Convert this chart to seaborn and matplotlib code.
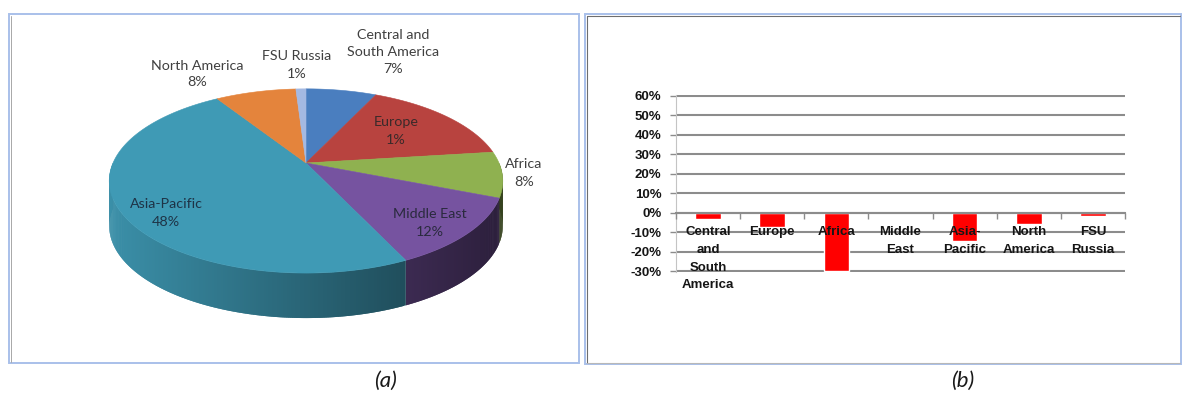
import numpy as np
import matplotlib
matplotlib.use("Agg")
import matplotlib.pyplot as plt
from matplotlib.patches import Polygon, Rectangle
from matplotlib.lines import Line2D
from matplotlib.colors import to_rgb
import seaborn as sns

# ---- panel (a): share of reserves by region ----
share_regions = ["Central and\nSouth America", "Europe", "Africa", "Middle East",
                 "Asia-Pacific", "North America", "FSU Russia"]
share_values = [7, 16, 8, 12, 48, 8, 1]
share_labels = ["7%", "1%", "8%", "12%", "48%", "8%", "1%"]
share_colors = ["#4a7ebf", "#b8433f", "#8fb150", "#7653a0",
                "#3f9ab5", "#e4843c", "#a4b9e2"]

# ---- panel (b): change by region ----
change_regions = ["Central\nand\nSouth\nAmerica", "Europe", "Africa", "Middle\nEast",
                  "Asia-\nPacific", "North\nAmerica", "FSU\nRussia"]
change_values = [-0.031, -0.072, -0.30, 0.0, -0.147, -0.058, -0.019]
ytick_values = [-0.3, -0.2, -0.1, 0.0, 0.1, 0.2, 0.3, 0.4, 0.5, 0.6]
ytick_labels = ["-30%", "-20%", "-10%", "0%", "10%", "20%", "30%", "40%", "50%", "60%"]

W, H = 1182, 396
sns.set_theme(style="white")
plt.rcParams["font.family"] = ["Lato", "DejaVu Sans"]

fig = plt.figure(figsize=(W / 100, H / 100), dpi=100)
fig.patch.set_facecolor("white")

# full-figure canvas in pixel units for the pie, frames and captions
ax0 = fig.add_axes([0, 0, 1, 1])
ax0.set_xlim(0, W)
ax0.set_ylim(H, 0)
ax0.axis("off")

# frames around both panels
ax0.add_patch(Rectangle((8.5, 14.0), 570.5, 348.5, fill=False, ec="#a9c0ea", lw=1.4, zorder=1))
ax0.add_line(Line2D([10.6, 10.6], [15.5, 361.5], color="#a8a8a8", lw=0.7, zorder=1))
ax0.add_patch(Rectangle((584.8, 14.0), 596.0, 350.0, fill=False, ec="#a9c0ea", lw=1.4, zorder=1))
ax0.add_line(Line2D([586.8, 1180], [15.6, 15.6], color="#6e6e6e", lw=0.8, zorder=1))
ax0.add_line(Line2D([586.8, 586.8], [15.6, 363], color="#6e6e6e", lw=0.8, zorder=1))
ax0.add_line(Line2D([586.8, 1180], [363.0, 363.0], color="#b8b8b8", lw=0.8, zorder=1))

# 3-D pie: tilted disc with mild perspective and an extruded rim
cx, cy = 306.0, 163.0
ra, rb = 193.0, 88.6
persp = 0.195
depth = 45.0


def rim(theta_deg):
    t = np.radians(theta_deg)
    u, v = np.cos(t), np.sin(t)
    k = 1.0 / (1.0 + persp * v)
    return cx + ra * u * k, cy - rb * v * k


total = float(sum(share_values))
bounds = 90.0 - 360.0 * np.concatenate([[0.0], np.cumsum(share_values)]) / total
sil = np.degrees(np.arcsin(persp))
x_left = rim(180.0 + sil)[0]
x_right = rim(-sil)[0]


def side_factor(x):
    return 0.93 - 0.56 * (x - x_left) / (x_right - x_left)


for i, col in enumerate(share_colors):
    t0, t1 = bounds[i], bounds[i + 1]
    n = max(int(abs(t0 - t1) * 2), 4)
    ts = np.linspace(t0, t1, n)
    top = [(cx, cy)] + [rim(t) for t in ts]
    ax0.add_patch(Polygon(top, closed=True, fc=col, ec=col, lw=0.4, zorder=3))
    base = np.array(to_rgb(col))
    # rim: narrow overlapping strips shaded from light (left) to dark (right)
    for j in range(len(ts) - 1):
        ta = ts[j]
        tb = ts[min(j + 2, len(ts) - 1)]
        if np.sin(np.radians(0.5 * (ts[j] + ts[j + 1]))) >= 0:
            continue
        xa, ya = rim(ta)
        xb, yb = rim(tb)
        c = np.clip(base * side_factor(0.5 * (xa + xb)), 0, 1)
        ax0.add_patch(Polygon([(xa, ya), (xb, yb), (xb, yb + depth), (xa, ya + depth)],
                              closed=True, fc=c, ec="none", lw=0, zorder=2))

label_pos = [(393, 52), (396, 131), (524, 173), (430, 223), (166, 213), (197, 74), (297, 65)]
label_col = ["#404040", "#3a2a2a", "#404040", "#2a2a3e", "#1e3346", "#404040", "#404040"]
for name, lab, (lx, ly), tc in zip(share_regions, share_labels, label_pos, label_col):
    ax0.text(lx, ly, f"{name}\n{lab}", ha="center", va="center", fontsize=10.3,
             color=tc, linespacing=1.5, zorder=4)

ax0.text(385, 381, "(a)", ha="center", va="center", fontsize=16, style="italic", color="#1a1a1a")
ax0.text(963, 381, "(b)", ha="center", va="center", fontsize=16, style="italic", color="#1a1a1a")

# ---- bar chart ----
ylo, yhi = -0.303, 0.603
px_per = (271.0 - 95.7) / 0.9
top_px = 95.7 - (yhi - 0.6) * px_per
bot_px = 271.0 + (-0.3 - ylo) * px_per
ax1 = fig.add_axes([676 / W, 1 - bot_px / H, (1125 - 676) / W, (bot_px - top_px) / H])
ax1.set_facecolor("none")
sns.barplot(x=change_regions, y=change_values, color="#ff0000", saturation=1,
            width=0.4, ax=ax1, zorder=2)
ax1.set_xlim(-0.5, 6.5)
ax1.set_ylim(ylo, yhi)
ax1.set_yticks(ytick_values, labels=ytick_labels)
ax1.set_xlabel("")
ax1.set_ylabel("")

ax1.set_axisbelow(True)
ax1.yaxis.grid(True, color="#8c8c8c", lw=1.5)
ax1.xaxis.grid(False)
ax1.xaxis.set_zorder(3)

for s in ("top", "right"):
    ax1.spines[s].set_visible(False)
ax1.spines["bottom"].set_position(("data", 0))
ax1.spines["bottom"].set_color("#8c8c8c")
ax1.spines["bottom"].set_linewidth(1.5)
ax1.spines["left"].set_color("#c4c4c4")
ax1.spines["left"].set_linewidth(0.8)

ax1.set_xticks(np.arange(-0.5, 7.0, 1.0), minor=True)
ax1.tick_params(axis="x", which="major", length=0, pad=10)
ax1.tick_params(axis="x", which="minor", bottom=True, direction="out", length=4,
                width=1.0, color="#8c8c8c")
ax1.tick_params(axis="y", which="major", left=True, direction="out", length=4,
                width=1.0, color="#8c8c8c", pad=6.5)

for lbl in ax1.get_xticklabels() + ax1.get_yticklabels():
    lbl.set_fontfamily(["Liberation Sans", "DejaVu Sans"])
    lbl.set_fontweight("bold")
    lbl.set_fontsize(9.5)
    lbl.set_color("#151515")
for lbl in ax1.get_xticklabels():
    lbl.set_linespacing(1.62)

fig.savefig("out.png", dpi=100, facecolor="white")
